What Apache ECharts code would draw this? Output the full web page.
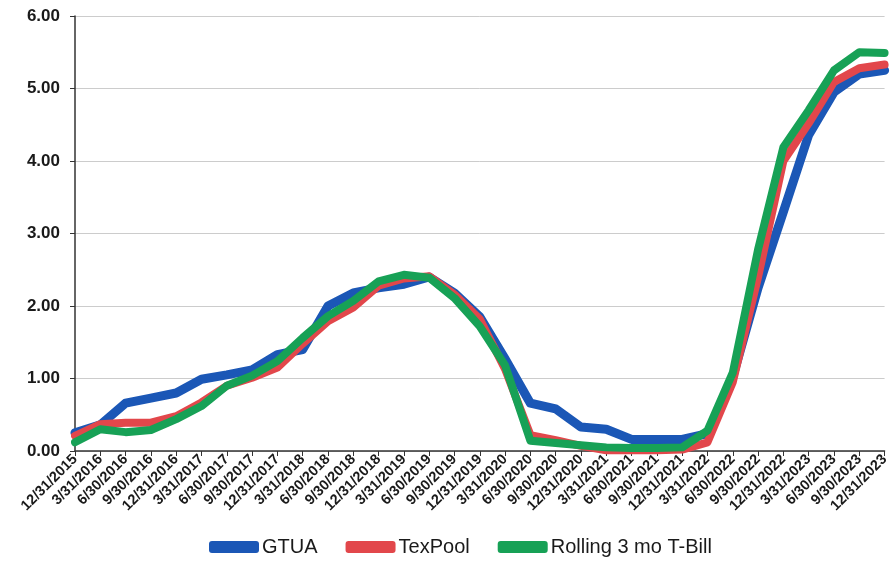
<!DOCTYPE html>
<html>
<head>
<meta charset="utf-8">
<script src="https://cdn.jsdelivr.net/npm/echarts@6/dist/echarts.min.js"></script>
<style>
  html, body { margin: 0; padding: 0; background: #ffffff; }
  #chart { width: 892px; height: 570px; }
</style>
</head>
<body>
<div id="chart"></div>
<script>
// Quarter-end dates
const quarters = [
  '12/31/2015', '3/31/2016', '6/30/2016', '9/30/2016', '12/31/2016',
  '3/31/2017', '6/30/2017', '9/30/2017', '12/31/2017',
  '3/31/2018', '6/30/2018', '9/30/2018', '12/31/2018',
  '3/31/2019', '6/30/2019', '9/30/2019', '12/31/2019',
  '3/31/2020', '6/30/2020', '9/30/2020', '12/31/2020',
  '3/31/2021', '6/30/2021', '9/30/2021', '12/31/2021',
  '3/31/2022', '6/30/2022', '9/30/2022', '12/31/2022',
  '3/31/2023', '6/30/2023', '9/30/2023', '12/31/2023'
];

// Yields (%)
const gtua = [0.25, 0.36, 0.66, 0.73, 0.80, 0.99, 1.05, 1.12, 1.33,
  1.40, 2.00, 2.18, 2.25, 2.30, 2.40, 2.18, 1.85,
  1.27, 0.66, 0.58, 0.33, 0.30, 0.16, 0.16, 0.16,
  0.24, 1.02, 2.25, 3.30, 4.36, 4.95, 5.20, 5.25];

const texPool = [0.21, 0.37, 0.39, 0.39, 0.48, 0.67, 0.90, 1.01, 1.15,
  1.48, 1.79, 1.98, 2.28, 2.38, 2.41, 2.16, 1.82,
  1.13, 0.22, 0.15, 0.07, 0.01, 0.01, 0.01, 0.02,
  0.12, 0.95, 2.40, 4.00, 4.52, 5.09, 5.28, 5.33];

const tBill3mo = [0.12, 0.30, 0.26, 0.29, 0.44, 0.62, 0.90, 1.04, 1.24,
  1.56, 1.86, 2.07, 2.34, 2.43, 2.39, 2.11, 1.72,
  1.18, 0.14, 0.11, 0.08, 0.05, 0.04, 0.04, 0.05,
  0.28, 1.08, 2.78, 4.19, 4.70, 5.25, 5.50, 5.49];

const seriesNames = ['GTUA', 'TexPool', 'Rolling 3 mo T-Bill'];
const seriesColors = ['#1b57b6', '#e2474b', '#17a156'];

const chart = echarts.init(document.getElementById('chart'), null, { renderer: 'canvas' });

function lineSeries(name, data, color, width) {
  return {
    name: name,
    type: 'line',
    data: data,
    showSymbol: false,
    symbol: 'none',
    color: color,
    lineStyle: { color: color, width: width, join: 'round', cap: 'round' },
    emphasis: { disabled: true },
    animation: false
  };
}

chart.setOption({
  backgroundColor: '#ffffff',
  textStyle: { fontFamily: 'Liberation Sans, Arial, sans-serif' },
  grid: { left: 75, right: 5, top: 16, bottom: 119 },
  legend: {
    bottom: 8,
    left: 204,
    icon: 'roundRect',
    itemWidth: 50,
    itemHeight: 12,
    itemGap: 28,
    data: seriesNames,
    textStyle: { fontSize: 20, color: '#1a1a1a', padding: [0, 0, 0, -2],
      fontFamily: 'Liberation Sans, Arial, sans-serif' }
  },
  xAxis: {
    type: 'category',
    data: quarters,
    boundaryGap: false,
    axisLine: { lineStyle: { color: '#333333', width: 1.5 } },
    axisTick: { show: true, alignWithLabel: true, length: 5, lineStyle: { color: '#333333' } },
    axisLabel: {
      interval: 0,
      rotate: 45,
      fontSize: 14.5,
      fontWeight: 'bold',
      color: '#1a1a1a',
      margin: 6
    },
    splitLine: { show: false }
  },
  yAxis: {
    type: 'value',
    min: 0,
    max: 6,
    interval: 1,
    axisLine: { show: true, lineStyle: { color: '#333333', width: 1.5 } },
    axisTick: { show: true, length: 5, lineStyle: { color: '#333333' } },
    axisLabel: {
      formatter: v => v.toFixed(2),
      fontSize: 17,
      fontWeight: 'bold',
      color: '#1a1a1a',
      margin: 15
    },
    splitLine: { lineStyle: { color: '#cccccc', width: 1 } }
  },
  series: [
    lineSeries(seriesNames[0], gtua, seriesColors[0], 9),
    lineSeries(seriesNames[1], texPool, seriesColors[1], 8),
    lineSeries(seriesNames[2], tBill3mo, seriesColors[2], 8)
  ]
});
</script>
</body>
</html>
